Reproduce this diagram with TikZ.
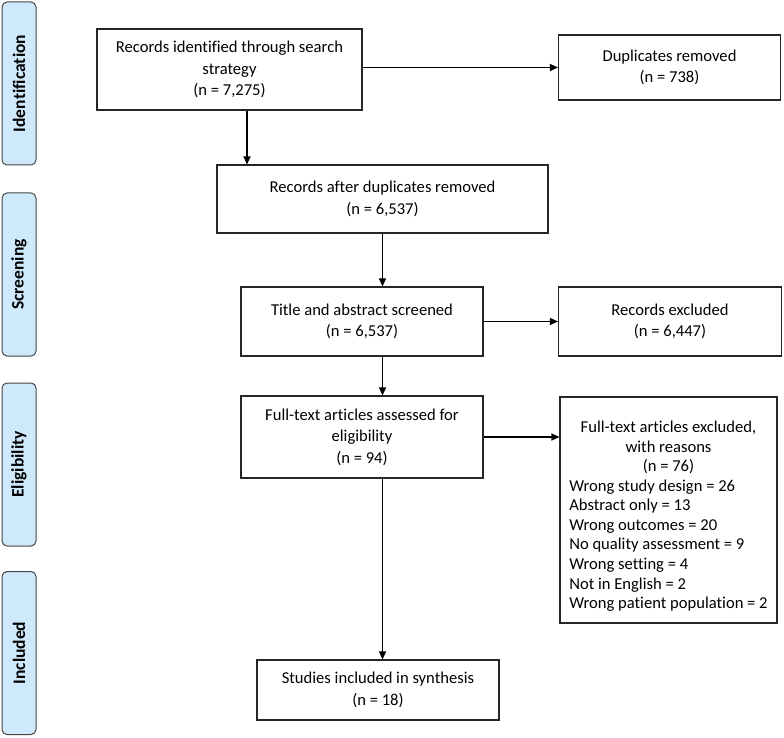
\documentclass[tikz,border=0pt]{standalone}
\usepackage{fontspec}
\setmainfont{Carlito}[Ligatures=NoCommon]
\usetikzlibrary{arrows.meta}

\definecolor{stageblue}{RGB}{207,233,252}
\definecolor{stageedge}{RGB}{70,70,70}

\begin{document}
\begin{tikzpicture}[x=1pt,y=-1pt,
    flowbox/.style={draw=black!85, line width=1.1pt, align=center, inner sep=2pt,
        font=\fontsize{16.6}{21.5}\selectfont},
    sidebox/.style={draw=stageedge, fill=stageblue, line width=1pt, rounded corners=5pt,
        rotate=90, minimum width=163pt, minimum height=34pt, inner sep=0pt,
        font=\fontsize{17.5}{20}\selectfont\bfseries},
    arr/.style={line width=1.1pt, -{Triangle[length=8pt,width=7pt]}}]

    \useasboundingbox (0,0) rectangle (784,738);

    % Stage labels down the left side
    \node[sidebox] (idlab)  at (19,83.5)  {Identification};
    \node[sidebox] (scrlab) at (19,274.5) {Screening};
    \node[sidebox] (elilab) at (19,464.5) {Eligibility};
    \node[sidebox] (inclab) at (19,653)   {Included};

    % Main flow boxes
    \node[flowbox, minimum width=265pt, minimum height=81pt] (ident) at (229.5,69.5)
        {Records identified through search\\ strategy\\ (n = 7,275)};
    \node[flowbox, minimum width=331pt, minimum height=68pt] (afterdup) at (382.5,199)
        {Records after duplicates removed\\ (n = 6,537)};
    \node[flowbox, minimum width=242pt, minimum height=69pt] (screened) at (362,321.5)
        {Title and abstract screened\\ (n = 6,537)};
    \node[flowbox, minimum width=242pt, minimum height=82pt] (fulltext) at (362,437)
        {Full-text articles assessed for\\ eligibility\\ (n = 94)};
    \node[flowbox, minimum width=242pt, minimum height=60pt] (included) at (378,690)
        {Studies included in synthesis\\ (n = 18)};

    % Side boxes on the right
    \node[flowbox, minimum width=222pt, minimum height=65pt] (dup) at (669.5,67.5)
        {Duplicates removed\\ (n = 738)};
    \node[flowbox, minimum width=223pt, minimum height=69pt] (excluded) at (670,321.5)
        {Records excluded\\ (n = 6,447)};
    \node[flowbox, minimum width=217pt, minimum height=226pt, font=\fontsize{16.6}{19.6}\selectfont]
        (reasons) at (668.5,510)
        {\rule{0pt}{27pt}Full-text articles excluded,\\ with reasons\\ (n = 76)\\[2.5pt]
        \begin{tabular}{@{}l@{}}
        Wrong study design = 26\\
        Abstract only = 13\\
        Wrong outcomes = 20\\
        No quality assessment = 9\\
        Wrong setting = 4\\
        Not in English = 2\\
        Wrong patient population = 2
        \end{tabular}};

    % Arrows down the flow
    \draw[arr] ([xshift=17.5pt]ident.south) -- ([xshift=17.5pt]ident.south |- afterdup.north);
    \draw[arr] (afterdup.south) -- (afterdup.south |- screened.north);
    \draw[arr] (screened.south -| afterdup.south) -- (afterdup.south |- fulltext.north);
    \draw[arr] (fulltext.south -| afterdup.south) -- (afterdup.south |- included.north);

    % Arrows to the right
    \draw[arr] (ident.east |- dup.west) -- (dup.west);
    \draw[arr] (screened.east) -- (excluded.west);
    \draw[arr] (fulltext.east) -- (reasons.west |- fulltext.east);

\end{tikzpicture}
\end{document}
